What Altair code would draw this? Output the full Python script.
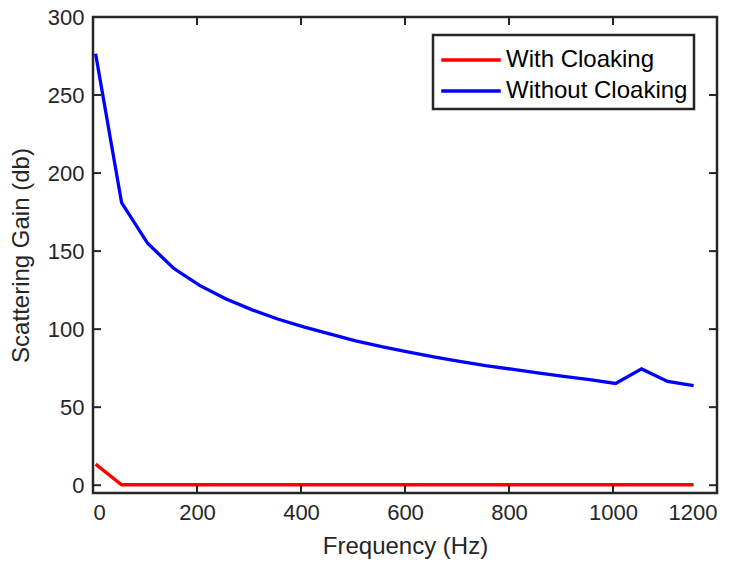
import altair as alt
import pandas as pd

freq = [5, 55, 105, 155, 205, 255, 305, 355, 405, 455, 505, 555, 605, 655,
        705, 755, 805, 855, 905, 955, 1005, 1055, 1105, 1155]
without_cloaking = [276.5, 181, 155, 139, 128, 119.5, 112.5, 106.5, 101.5, 97,
                    92.5, 88.8, 85.5, 82.3, 79.3, 76.6, 74.3, 72, 69.8, 67.6,
                    65.2, 74.5, 66.5, 63.8]
with_cloaking = [13.5, 0.3, 0.3, 0.3, 0.3, 0.3, 0.3, 0.3, 0.3, 0.3, 0.3, 0.3,
                 0.3, 0.3, 0.3, 0.3, 0.3, 0.3, 0.3, 0.3, 0.3, 0.3, 0.3, 0.3]
series = ["With Cloaking", "Without Cloaking"]
colors = ["#FF0000", "#0000FF"]
x_ticks = [0, 200, 400, 600, 800, 1000, 1200]
y_ticks = [0, 50, 100, 150, 200, 250, 300]

W, H = 624, 476
TXT = "#262626"

df = pd.DataFrame({
    "Frequency": freq * 2,
    "Gain": with_cloaking + without_cloaking,
    "Series": [series[0]] * len(freq) + [series[1]] * len(freq),
})

xscale = alt.Scale(domain=[0, 1200], nice=False)
yscale = alt.Scale(domain=[-5, 300], nice=False)

lines = alt.Chart(df).mark_line(strokeWidth=3.3, clip=True).encode(
    x=alt.X("Frequency:Q", scale=xscale,
            axis=alt.Axis(values=x_ticks, title="Frequency (Hz)", grid=False,
                          format="d",
                          ticks=False, domain=False, labelPadding=9,
                          titlePadding=11)),
    y=alt.Y("Gain:Q", scale=yscale,
            axis=alt.Axis(values=y_ticks, title="Scattering Gain (db)", grid=False,
                          ticks=False, domain=False, labelPadding=9,
                          titlePadding=14)),
    stroke=alt.Stroke("Series:N", scale=alt.Scale(domain=series, range=colors),
                      legend=alt.Legend(title=None, orient="none", legendX=340,
                                        legendY=18, symbolType="M-1.75,0H1.75",
                                        symbolSize=1156, symbolStrokeWidth=3.3,
                                        symbolOffset=13, labelOffset=16,
                                        labelFontSize=24, labelColor="#000000",
                                        labelLimit=400,
                                        strokeColor=TXT, padding=6,
                                        rowPadding=0)),
)

xt = pd.DataFrame({"v": x_ticks})
yt = pd.DataFrame({"v": y_ticks})
tick_style = dict(color=TXT, strokeWidth=2)
xb = alt.Chart(xt).mark_rule(**tick_style).encode(
    x=alt.X("v:Q", scale=xscale), y=alt.value(H), y2=alt.value(H - 8))
xtop = alt.Chart(xt).mark_rule(**tick_style).encode(
    x=alt.X("v:Q", scale=xscale), y=alt.value(0), y2=alt.value(8))
yl = alt.Chart(yt).mark_rule(**tick_style).encode(
    y=alt.Y("v:Q", scale=yscale), x=alt.value(0), x2=alt.value(8))
yr = alt.Chart(yt).mark_rule(**tick_style).encode(
    y=alt.Y("v:Q", scale=yscale), x=alt.value(W), x2=alt.value(W - 8))

chart = alt.layer(lines, xb, xtop, yl, yr).properties(
    width=W, height=H,
    autosize=alt.AutoSizeParams(type="none"),
    padding={"left": 85, "top": 9, "right": 18, "bottom": 70},
).configure_view(
    stroke=TXT, strokeWidth=2.5
).configure_axis(
    labelFont="Liberation Sans", titleFont="Liberation Sans",
    labelFontSize=22, titleFontSize=24, labelColor=TXT, titleColor=TXT,
    titleFontWeight="normal"
).configure_legend(
    labelFont="Liberation Sans", strokeWidth=2.5
)

chart.save("out.html", embed_options={"renderer": "svg", "actions": False})
